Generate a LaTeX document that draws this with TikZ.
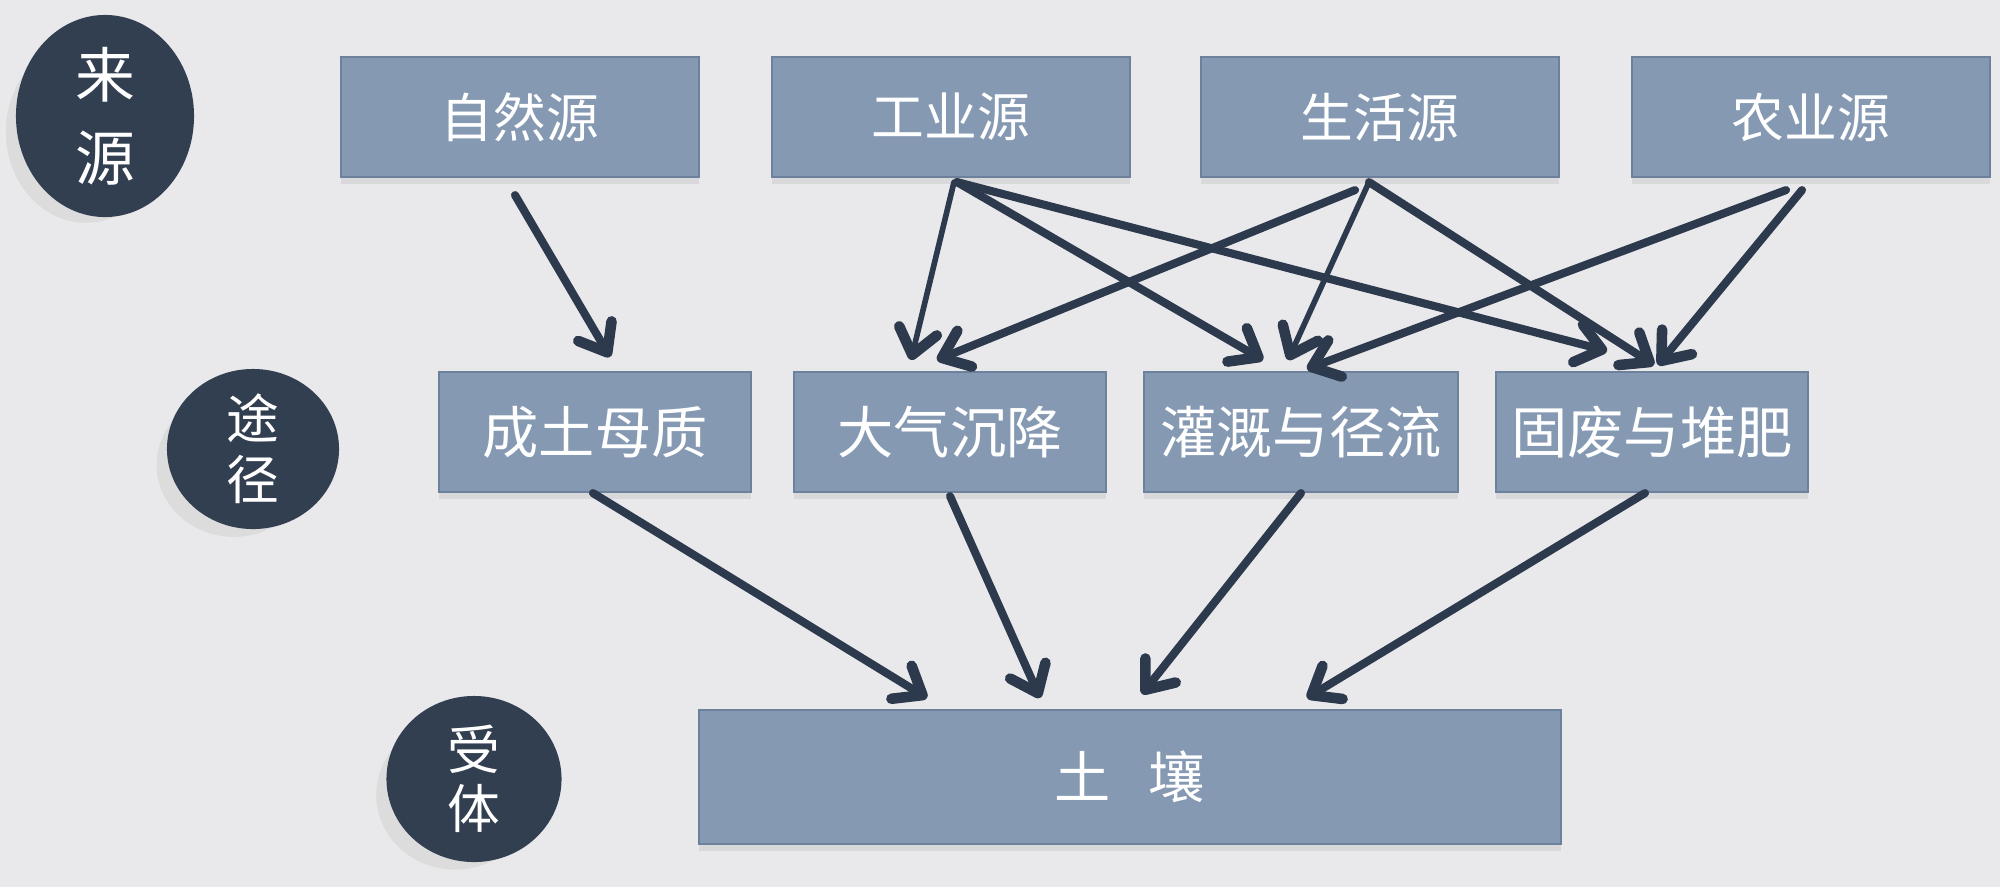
\documentclass[tikz,border=0pt]{standalone}
\usepackage{fontspec}
\newfontfamily\cjk{Noto Sans CJK SC}
\usetikzlibrary{shapes.geometric,arrows.meta,calc,shadows}
\definecolor{bg}{HTML}{E9E9EB}
\definecolor{boxc}{HTML}{8599B3}
\definecolor{boxd}{HTML}{6E819C}
\definecolor{darkc}{HTML}{323F51}
\definecolor{arr}{HTML}{2D3A4D}
\begin{document}
\begin{tikzpicture}[x=0.01cm,y=-0.01cm,
  box/.style={rectangle, fill=boxc, draw=boxd, line width=0.6pt,
    minimum height=1.2cm, text=white, inner sep=0pt,
    drop shadow={opacity=0.15, shadow xshift=0pt, shadow yshift=-2pt}},
  topbox/.style={box, minimum width=3.58cm, font=\cjk\fontsize{15}{18}\selectfont},
  midbox/.style={box, minimum width=3.12cm, font=\cjk\fontsize{16}{19}\selectfont},
  circ/.style={ellipse, fill=darkc, text=white, inner sep=0pt, align=center,
    drop shadow={opacity=0.12, shadow xshift=-6pt, shadow yshift=-5pt, shadow scale=0.9}},
  conn/.style={draw=arr, line width=2.3pt, line cap=round,
    -{Straight Barb[length=7pt, width=11pt, line width=3pt, round]}},
  thin/.style={line width=1.6pt}
]
\fill[bg] (0,0) rectangle (2000,887);
\useasboundingbox (0,0) rectangle (2000,887);

% category ellipses
\node[circ, minimum width=1.78cm, minimum height=2.02cm,
  font=\cjk\fontsize{17}{23.5}\selectfont] (c1) at (105,116) {来\\源};
\node[circ, minimum width=1.72cm, minimum height=1.60cm,
  font=\cjk\fontsize{15}{17.3}\selectfont] (c2) at (253,449) {途\\径};
\node[circ, minimum width=1.75cm, minimum height=1.66cm,
  font=\cjk\fontsize{15}{16.7}\selectfont] (c3) at (474,779) {受\\体};

% sources
\node[topbox] (s1) at (520,117) {自然源};
\node[topbox] (s2) at (951,117) {工业源};
\node[topbox] (s3) at (1380,117) {生活源};
\node[topbox] (s4) at (1811,117) {农业源};

% pathways
\node[midbox] (p1) at (595,432) {成土母质};
\node[midbox] (p2) at (950,432) {大气沉降};
\node[midbox, minimum width=3.14cm] (p3) at (1301,432) {灌溉与径流};
\node[midbox] (p4) at (1652,432) {固废与堆肥};

% receptor
\node[box, minimum width=8.62cm, minimum height=1.34cm,
  font=\cjk\fontsize{16}{19}\selectfont] (r) at (1130,777) {土\hspace{0.67em}壤};

% source -> pathway
\draw[conn] ($(s1.south)+(-5,17)$) -- ($(p1.north)+(15,-14)$);
\draw[conn,thin] ($(s2.south)+(3,4)$) -- ($(p2.north)+(-39,-11)$);
\draw[conn] ($(s2.south)+(6,4)$) -- ($(p3.north)+(-38,-11)$);
\draw[conn] ($(s2.south)+(6,4)$) -- ($(p4.north)+(-45,-20)$);
\draw[conn] ($(s3.south)+(-25,12)$) -- ($(p2.north)+(-13,-11)$);
\draw[conn,thin] ($(s3.south)+(-11,4)$) -- ($(p3.north)+(-13,-11)$);
\draw[conn] ($(s3.south)+(-11,4)$) -- ($(p4.north)+(2,-6)$);
\draw[conn] ($(s4.south)+(-25,12)$) -- ($(p3.north)+(6,-2)$);
\draw[conn] ($(s4.south)+(-9,12)$) -- ($(p4.north)+(6,-6)$);

% pathway -> receptor
\draw[conn] ($(p1.south)+(-2,0)$) -- ($(r.north)+(-203,-11)$);
\draw[conn] ($(p2.south)+(0,3)$) -- ($(r.north)+(-90,-11)$);
\draw[conn] ($(p3.south)+(0,0)$) -- ($(r.north)+(12,-15)$);
\draw[conn] ($(p4.south)+(-7,0)$) -- ($(r.north)+(177,-11)$);
\end{tikzpicture}
\end{document}
